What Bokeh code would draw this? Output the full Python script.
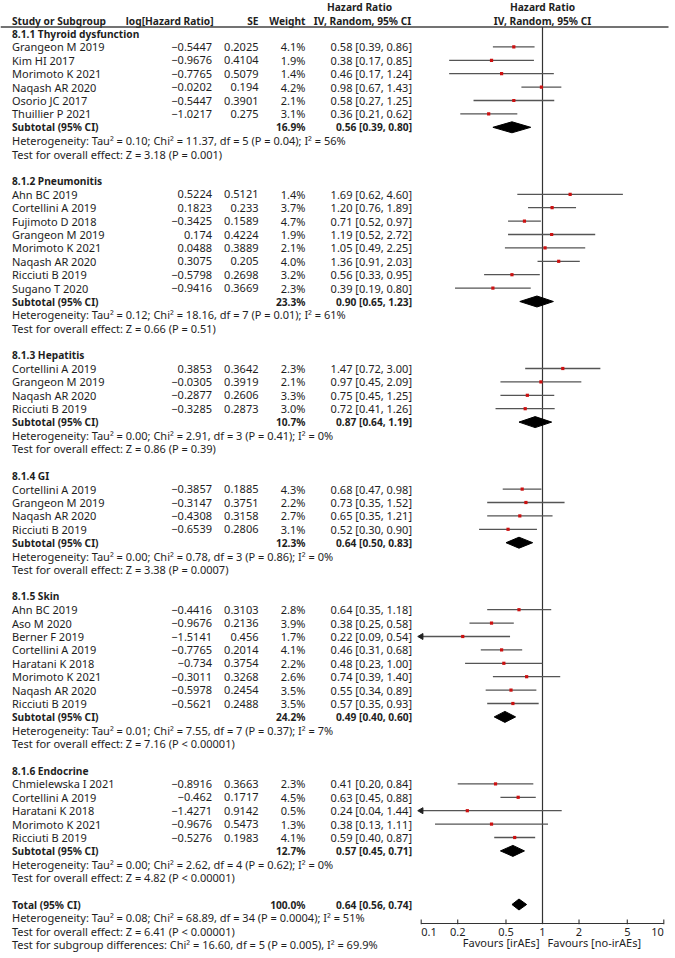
import numpy as np
from bokeh.plotting import figure
from bokeh.models import Range1d, LogScale
from bokeh.core.properties import value
from bokeh.embed import file_html
from bokeh.resources import INLINE

# ---------------- data ----------------
group_titles = ["8.1.1 Thyroid dysfunction", "8.1.2 Pneumonitis", "8.1.3 Hepatitis",
                "8.1.4 GI", "8.1.5 Skin", "8.1.6 Endocrine"]

study_names = [
    ["Grangeon M 2019", "Kim HI 2017", "Morimoto K 2021", "Naqash AR 2020", "Osorio JC 2017", "Thuillier P 2021"],
    ["Ahn BC 2019", "Cortellini A 2019", "Fujimoto D 2018", "Grangeon M 2019", "Morimoto K 2021",
     "Naqash AR 2020", "Ricciuti B 2019", "Sugano T 2020"],
    ["Cortellini A 2019", "Grangeon M 2019", "Naqash AR 2020", "Ricciuti B 2019"],
    ["Cortellini A 2019", "Grangeon M 2019", "Naqash AR 2020", "Ricciuti B 2019"],
    ["Ahn BC 2019", "Aso M 2020", "Berner F 2019", "Cortellini A 2019", "Haratani K 2018",
     "Morimoto K 2021", "Naqash AR 2020", "Ricciuti B 2019"],
    ["Chmielewska I 2021", "Cortellini A 2019", "Haratani K 2018", "Morimoto K 2021", "Ricciuti B 2019"],
]
log_hr = [
    [-0.5447, -0.9676, -0.7765, -0.0202, -0.5447, -1.0217],
    [0.5224, 0.1823, -0.3425, 0.174, 0.0488, 0.3075, -0.5798, -0.9416],
    [0.3853, -0.0305, -0.2877, -0.3285],
    [-0.3857, -0.3147, -0.4308, -0.6539],
    [-0.4416, -0.9676, -1.5141, -0.7765, -0.734, -0.3011, -0.5978, -0.5621],
    [-0.8916, -0.462, -1.4271, -0.9676, -0.5276],
]
se = [
    [0.2025, 0.4104, 0.5079, 0.194, 0.3901, 0.275],
    [0.5121, 0.233, 0.1589, 0.4224, 0.3889, 0.205, 0.2698, 0.3669],
    [0.3642, 0.3919, 0.2606, 0.2873],
    [0.1885, 0.3751, 0.3158, 0.2806],
    [0.3103, 0.2136, 0.456, 0.2014, 0.3754, 0.3268, 0.2454, 0.2488],
    [0.3663, 0.1717, 0.9142, 0.5473, 0.1983],
]
weights = [
    [4.1, 1.9, 1.4, 4.2, 2.1, 3.1],
    [1.4, 3.7, 4.7, 1.9, 2.1, 4.0, 3.2, 2.3],
    [2.3, 2.1, 3.3, 3.0],
    [4.3, 2.2, 2.7, 3.1],
    [2.8, 3.9, 1.7, 4.1, 2.2, 2.6, 3.5, 3.5],
    [2.3, 4.5, 0.5, 1.3, 4.1],
]
hr = [
    [0.58, 0.38, 0.46, 0.98, 0.58, 0.36],
    [1.69, 1.20, 0.71, 1.19, 1.05, 1.36, 0.56, 0.39],
    [1.47, 0.97, 0.75, 0.72],
    [0.68, 0.73, 0.65, 0.52],
    [0.64, 0.38, 0.22, 0.46, 0.48, 0.74, 0.55, 0.57],
    [0.41, 0.63, 0.24, 0.38, 0.59],
]
ci_low = [
    [0.39, 0.17, 0.17, 0.67, 0.27, 0.21],
    [0.62, 0.76, 0.52, 0.52, 0.49, 0.91, 0.33, 0.19],
    [0.72, 0.45, 0.45, 0.41],
    [0.47, 0.35, 0.35, 0.30],
    [0.35, 0.25, 0.09, 0.31, 0.23, 0.39, 0.34, 0.35],
    [0.20, 0.45, 0.04, 0.13, 0.40],
]
ci_high = [
    [0.86, 0.85, 1.24, 1.43, 1.25, 0.62],
    [4.60, 1.89, 0.97, 2.72, 2.25, 2.03, 0.95, 0.80],
    [3.00, 2.09, 1.25, 1.26],
    [0.98, 1.52, 1.21, 0.90],
    [1.18, 0.58, 0.54, 0.68, 1.00, 1.40, 0.89, 0.93],
    [0.84, 0.88, 1.44, 1.11, 0.87],
]
sub_weight = [16.9, 23.3, 10.7, 12.3, 24.2, 12.7]
sub_hr = [0.56, 0.90, 0.87, 0.64, 0.49, 0.57]
sub_low = [0.39, 0.65, 0.64, 0.50, 0.40, 0.45]
sub_high = [0.80, 1.23, 1.19, 0.83, 0.60, 0.71]
het_text = [
    "Heterogeneity: Tau\u00b2 = 0.10; Chi\u00b2 = 11.37, df = 5 (P = 0.04); I\u00b2 = 56%",
    "Heterogeneity: Tau\u00b2 = 0.12; Chi\u00b2 = 18.16, df = 7 (P = 0.01); I\u00b2 = 61%",
    "Heterogeneity: Tau\u00b2 = 0.00; Chi\u00b2 = 2.91, df = 3 (P = 0.41); I\u00b2 = 0%",
    "Heterogeneity: Tau\u00b2 = 0.00; Chi\u00b2 = 0.78, df = 3 (P = 0.86); I\u00b2 = 0%",
    "Heterogeneity: Tau\u00b2 = 0.01; Chi\u00b2 = 7.55, df = 7 (P = 0.37); I\u00b2 = 7%",
    "Heterogeneity: Tau\u00b2 = 0.00; Chi\u00b2 = 2.62, df = 4 (P = 0.62); I\u00b2 = 0%",
]
effect_text = [
    "Test for overall effect: Z = 3.18 (P = 0.001)",
    "Test for overall effect: Z = 0.66 (P = 0.51)",
    "Test for overall effect: Z = 0.86 (P = 0.39)",
    "Test for overall effect: Z = 3.38 (P = 0.0007)",
    "Test for overall effect: Z = 7.16 (P < 0.00001)",
    "Test for overall effect: Z = 4.82 (P < 0.00001)",
]
total_weight = 100.0
total_hr, total_low, total_high = 0.64, 0.56, 0.74
total_het = "Heterogeneity: Tau\u00b2 = 0.08; Chi\u00b2 = 68.89, df = 34 (P = 0.0004); I\u00b2 = 51%"
total_effect = "Test for overall effect: Z = 6.41 (P < 0.00001)"
subgroup_test = "Test for subgroup differences: Chi\u00b2 = 16.60, df = 5 (P = 0.005), I\u00b2 = 69.9%"
axis_ticks = [0.1, 0.2, 0.5, 1, 2, 5, 10]
axis_tick_labels = ["0.1", "0.2", "0.5", "1", "2", "5", "10"]
favours_left = "Favours [irAEs]"
favours_right = "Favours [no-irAEs]"

# ---------------- helpers ----------------
def fmt_num(v):
    s = f"{v:.4f}".rstrip("0")
    return s.replace("-", "\u2212")

def fmt_ci(h, l, u):
    return f"{h:.2f} [{l:.2f}, {u:.2f}]"

FONT = value("Noto Sans")
FS = "11px"
FSB = "10.2px"
TXT = "#1e1e1e"

W, H = 672, 954
row_px = 13.4
row0_px = 33.0
top_row = -row0_px / row_px
bot_row = top_row + H / row_px

p = figure(width=W, height=H, output_backend="svg", toolbar_location=None,
           x_range=Range1d(0, W), y_range=Range1d(bot_row, top_row),
           x_axis_location=None, y_axis_location=None, min_border=0,
           outline_line_color=None, background_fill_color="white")
p.grid.visible = False

# log scale for the forest part: 0.1 -> px 420.7, 10 -> px 663.3
px_01, px_10 = 420.7, 663.3
dec = (px_10 - px_01) / 2
lo_log = -1 - px_01 / dec
hi_log = -1 + (W - px_01) / dec
p.extra_x_ranges = {"hr": Range1d(10 ** lo_log, 10 ** hi_log)}
p.extra_x_scales = {"hr": LogScale()}

def txt(x, y, t, align="left", bold=False, rng="default", xoff=0):
    p.text(x=x, y=y, text=t, text_font=FONT, text_font_size=FSB if bold else FS,
           text_font_style="bold" if bold else "normal", text_color=TXT,
           text_align=align, text_baseline="middle", x_range_name=rng, x_offset=xoff)

X_NAME, X_LOG, X_SE, X_W, X_CI = 11.5, 211.5, 258, 305, 411.5
H1 = (6.5 - row0_px) / row_px
H2 = (20.5 - row0_px) / row_px
HL = (26.5 - row0_px) / row_px

# headers
txt([X_NAME], [H2], ["Study or Subgroup"], bold=True)
txt([213], [H2], ["log[Hazard Ratio]"], "right", True)
txt([X_SE], [H2], ["SE"], "right", True)
txt([X_W], [H2], ["Weight"], "right", True)
txt([359], [H1], ["Hazard Ratio"], "center", True)
txt([362], [H2], ["IV, Random, 95% CI"], "center", True)
txt([1], [H1], ["Hazard Ratio"], "center", True, "hr")
txt([1], [H2], ["IV, Random, 95% CI"], "center", True, "hr")
p.segment(x0=[0], x1=[668], y0=[HL], y1=[HL], line_color="#444", line_width=1.4)

# rows
row = 0
names_x, names_y, names_t = [], [], []
num_rows, log_t, se_t, w_t, ci_t = [], [], [], [], []
f_rows, f_hr, f_lo, f_hi = [], [], [], []
title_rows, sub_rows, het_rows = [], [], []
for g in range(len(group_titles)):
    title_rows.append(row)
    row += 1
    for i, nm in enumerate(study_names[g]):
        names_x.append(X_NAME); names_y.append(row); names_t.append(nm)
        num_rows.append(row)
        log_t.append(fmt_num(log_hr[g][i]))
        se_t.append(fmt_num(se[g][i]))
        w_t.append(f"{weights[g][i]:.1f}%")
        ci_t.append(fmt_ci(hr[g][i], ci_low[g][i], ci_high[g][i]))
        f_rows.append(row); f_hr.append(hr[g][i]); f_lo.append(ci_low[g][i]); f_hi.append(ci_high[g][i])
        row += 1
    sub_rows.append(row)
    row += 1
    het_rows.append(row)
    row += 3
total_row = row

txt([X_NAME] * len(title_rows), title_rows, group_titles, bold=True)
txt(names_x, names_y, names_t)
txt([X_LOG] * len(num_rows), num_rows, log_t, "right")
txt([X_SE] * len(num_rows), num_rows, se_t, "right")
txt([X_W] * len(num_rows), num_rows, w_t, "right")
txt([X_CI] * len(num_rows), num_rows, ci_t, "right")

txt([X_NAME] * len(sub_rows), sub_rows, ["Subtotal (95% CI)"] * len(sub_rows), bold=True)
txt([X_W] * len(sub_rows), sub_rows, [f"{w:.1f}%" for w in sub_weight], "right", True)
txt([X_CI] * len(sub_rows), sub_rows,
    [fmt_ci(a, b, c) for a, b, c in zip(sub_hr, sub_low, sub_high)], "right", True)
txt([X_NAME] * len(het_rows), het_rows, het_text)
txt([X_NAME] * len(het_rows), [r + 1 for r in het_rows], effect_text)

txt([X_NAME], [total_row], ["Total (95% CI)"], bold=True)
txt([X_W], [total_row], [f"{total_weight:.1f}%"], "right", True)
txt([X_CI], [total_row], [fmt_ci(total_hr, total_low, total_high)], "right", True)
txt([X_NAME] * 3, [total_row + 1, total_row + 2, total_row + 3], [total_het, total_effect, subgroup_test])

# forest: null line and axis
axis_row = (923 - row0_px) / row_px
p.segment(x0=[1], x1=[1], y0=[HL], y1=[axis_row], line_color="#333", line_width=1.2, x_range_name="hr")
p.segment(x0=[axis_ticks[0]], x1=[axis_ticks[-1]], y0=[axis_row], y1=[axis_row],
          line_color="#333", line_width=1.1, x_range_name="hr")
p.segment(x0=axis_ticks, x1=axis_ticks, y0=[axis_row - 0.3] * len(axis_ticks),
          y1=[axis_row + 0.05] * len(axis_ticks), line_color="#333", line_width=1.1, x_range_name="hr")
lab_row = (931 - row0_px) / row_px
fav_row = (942 - row0_px) / row_px
txt([axis_ticks[0]], [lab_row], [axis_tick_labels[0]], "left", rng="hr")
txt(axis_ticks[1:-1], [lab_row] * (len(axis_ticks) - 2), axis_tick_labels[1:-1], "center", rng="hr")
txt([axis_ticks[-1]], [lab_row], [axis_tick_labels[-1]], "right", rng="hr")
txt([1], [fav_row], [favours_left], "right", rng="hr", xoff=-3)
txt([1], [fav_row], [favours_right], "left", rng="hr", xoff=5)

# study CIs
f_lo = np.array(f_lo); f_hi = np.array(f_hi)
x_min, x_max = axis_ticks[0], axis_ticks[-1]
p.segment(x0=np.clip(f_lo, x_min, x_max), x1=np.clip(f_hi, x_min, x_max), y0=f_rows, y1=f_rows,
          line_color="#555", line_width=1.3, x_range_name="hr")
p.scatter(x=f_hr, y=f_rows, marker="square", size=3.2, fill_color="#cc1111", line_color=None,
          x_range_name="hr")
arrow_rows = [r for r, l in zip(f_rows, f_lo) if l < x_min]
p.scatter(x=[x_min] * len(arrow_rows), y=arrow_rows, marker="triangle", size=6, angle=np.pi / 2,
          fill_color="#222", line_color="#222", x_range_name="hr")

# diamonds
dh = 0.41
d_rows = sub_rows + [total_row]
d_hr = sub_hr + [total_hr]
d_lo = sub_low + [total_low]
d_hi = sub_high + [total_high]
p.patches(xs=[[l, m, u, m] for l, m, u in zip(d_lo, d_hr, d_hi)],
          ys=[[r, r - dh, r, r + dh] for r in d_rows],
          fill_color="black", line_color="black", line_width=1, x_range_name="hr")

open("out.html", "w").write(file_html(p, INLINE))
